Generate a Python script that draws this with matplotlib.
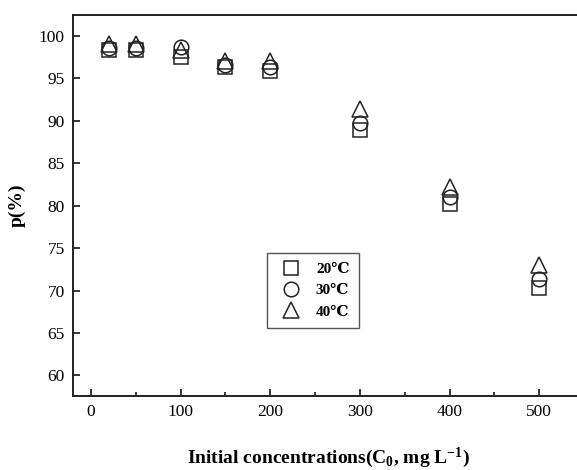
import matplotlib
matplotlib.use("Agg")
import matplotlib.pyplot as plt

# initial concentration (mg/L) and removal percentage p(%) at three temperatures
conc = [20, 50, 100, 150, 200, 300, 400, 500]
p_20 = [98.4, 98.4, 97.5, 96.4, 95.9, 88.9, 80.2, 70.3]
p_30 = [98.6, 98.6, 98.7, 96.6, 96.4, 89.8, 81.0, 71.4]
p_40 = [99.1, 99.1, 98.4, 97.0, 97.0, 91.4, 82.2, 73.0]
labels = ["20\u2103", "30\u2103", "40\u2103"]

plt.rcParams["font.family"] = ["Liberation Serif", "DejaVu Serif"]
plt.rcParams["mathtext.fontset"] = "custom"
plt.rcParams["mathtext.rm"] = "Liberation Serif:bold"
plt.rcParams["mathtext.bf"] = "Liberation Serif:bold"
plt.rcParams["mathtext.default"] = "bf"

fig = plt.figure(figsize=(5.77, 4.70), dpi=100)
ax = fig.add_axes([0.1265, 0.158, 0.9636, 0.8106])

style = dict(linestyle="none", markerfacecolor="none", markeredgecolor="#222222",
             markeredgewidth=1.1)
ax.plot(conc, p_20, marker="s", markersize=9.5, label=labels[0], **style)
ax.plot(conc, p_30, marker="o", markersize=10.5, label=labels[1], **style)
ax.plot(conc, p_40, marker="^", markersize=12, label=labels[2], **style)

ax.set_xlim(-20, 600)
ax.set_ylim(57.6, 102.5)
ax.set_xticks([0, 100, 200, 300, 400, 500])
ax.set_xticks([50, 150, 250, 350, 450], minor=True)
ax.set_yticks([60, 65, 70, 75, 80, 85, 90, 95, 100])

ax.tick_params(direction="in", labelsize=12.5, width=1.1, length=5, pad=6)
ax.tick_params(which="minor", direction="in", width=1.1, length=3)
ax.tick_params(top=False, right=False)
for side in ["left", "bottom", "top"]:
    ax.spines[side].set_linewidth(1.4)
    ax.spines[side].set_color("#222222")
ax.spines["right"].set_visible(False)

ax.set_ylabel("p(%)", fontsize=14, fontweight="bold")
ax.yaxis.set_label_coords(-0.085, 0.5)
ax.set_xlabel(r"Initial concentrations(C$_0$, mg L$^{-1}$)", fontsize=14,
              fontweight="bold")
ax.xaxis.set_label_coords(0.46, -0.13)

leg = ax.legend(loc="upper left", bbox_to_anchor=(0.349, 0.374), borderaxespad=0,
                fancybox=False, edgecolor="#555555", framealpha=1,
                prop={"weight": "bold", "size": 11}, handlelength=2.0,
                handletextpad=0.6, labelspacing=0.5, borderpad=0.6)
leg.get_frame().set_linewidth(1.0)

fig.savefig("out.png", dpi=100)
